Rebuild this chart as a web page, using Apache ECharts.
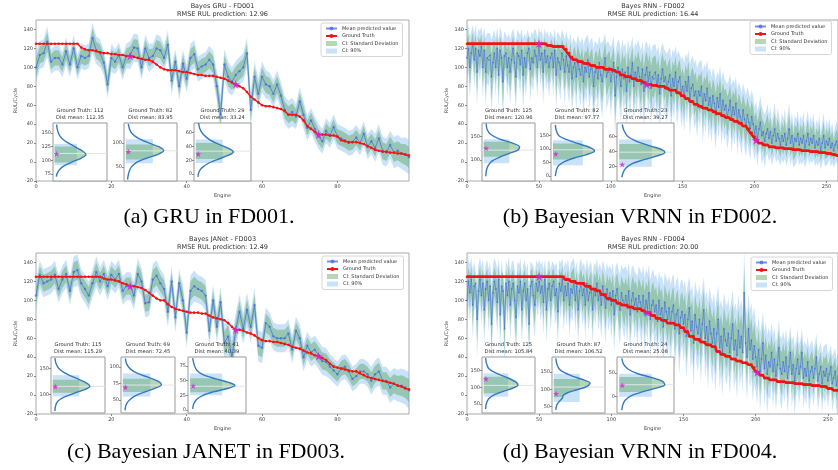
<!DOCTYPE html>
<html><head><meta charset="utf-8">
<script src="https://cdn.jsdelivr.net/npm/echarts@6/dist/echarts.min.js"></script>
<style>html,body{margin:0;padding:0;background:#fff}#c{width:838px;height:470px}</style>
</head><body><div id="c"></div>
<script>
// ---------------- DATA ----------------
const panelTitles = ['Bayes GRU - FD001','Bayes RNN - FD002','Bayes JANet - FD003','Bayes RNN - FD004'];
const panelRMSE = ['12.96','16.44','12.49','20.00'];
const captions = ['(a) GRU in FD001.','(b) Bayesian VRNN in FD002.','(c) Bayesian JANET in FD003.','(d) Bayesian VRNN in FD004.'];

// FD001
const truthA = [125,125,125,125,125,125,125,125,125,125,125,125,121,119,118,118,117,116,115,115,114,114,113,113,112,112,111,110,109,108,108,106,103,100,98,97,97,97,96,95,95,94,93,92,92,91,91,91,90,89,88,86,84,82,80,78,74,69,66,63,60,59,59,58,57,56,54,50,50,50,48,44,38,35,32,29,29,29,28,28,27,23,22,21,21,21,20,19,17,15,13,12,11,11,10,10,9,9,8,7];
const meanA = [100,113,115,127,106,110,110,103,117,103,120,100,112,110,112,131,118,115,105,82,110,106,113,100,112,113,121,120,100,120,110,112,120,118,110,124,86,106,80,104,88,110,114,98,101,103,108,103,80,50,103,90,85,92,96,100,115,55,90,72,90,82,80,72,82,70,55,50,53,48,64,50,36,44,35,27,22,33,28,37,27,25,23,20,21,26,20,30,16,22,15,25,12,10,18,10,12,9,8,5];
const sdA = [10,9,9,10,8,8,8,8,9,8,9,8,8,8,8,10,9,9,8,9,9,8,8,8,8,9,9,9,8,9,9,8,9,9,8,9,9,8,9,9,9,9,9,8,8,8,9,9,10,12,10,10,9,9,9,9,10,12,10,10,10,9,9,9,9,9,9,9,9,8,9,9,8,8,8,8,8,8,8,8,8,8,8,8,8,8,8,8,8,8,9,9,9,9,9,10,10,10,11,11];

// FD002 (ground truth as [value, count] runs)
const truthRunsB = [[125,56],[123,4],[122,8],[119,2],[115,2],[111,2],[108,3],[106,4],[104,5],[102,4],[100,6],[98,5],[97,3],[95,3],[92,3],[90,5],[88,3],[86,4],[84,3],[82,4],[81,4],[80,5],[78,3],[76,5],[73,3],[70,3],[67,3],[64,3],[61,3],[59,3],[57,4],[55,3],[53,3],[51,3],[49,3],[47,3],[45,3],[43,3],[41,3],[38,3],[35,2],[31,2],[27,2],[23,2],[20,3],[18,4],[16,5],[15,6],[14,6],[13,6],[12,6],[11,6],[10,5],[9,4],[8,3],[7,2]];
const meanB = [110,120,100,115,125,108,120,95,118,112,
122,100,118,95,110,108,113,90,105,115,
100,120,92,118,110,85,112,115,100,110,
95,108,120,105,90,115,112,103,118,92,
110,100,115,120,98,110,105,118,112,100,
122,108,115,95,118,105,112,100,110,115,
100,118,92,110,105,98,115,108,95,112,
102,95,110,88,100,105,90,108,98,92,
105,85,100,95,108,90,98,102,80,95,
100,88,105,92,85,98,110,90,95,100,
85,95,105,70,90,100,92,80,98,88,
95,75,100,85,92,105,80,95,88,100,
90,82,98,75,92,100,85,95,78,90,
88,95,80,92,72,88,98,85,90,78,
85,92,70,88,80,95,75,85,90,72,
80,68,85,75,90,65,78,82,70,75,
62,75,70,80,58,72,65,78,60,68,
55,70,62,50,68,58,72,52,65,55,
60,48,55,65,45,58,50,62,42,55,
48,40,55,45,38,50,42,35,48,40,
30,38,25,35,42,28,32,22,30,35,
25,32,20,28,35,22,30,25,18,28,
22,30,18,25,35,20,28,15,25,22,
30,18,25,20,28,15,22,30,18,25,
20,28,15,22,18,25,12,20,28,15,
22,18,25,15,20,12,18,22,15];
const sdB = [18,15,20,14,12,17,15,22,14,16,13,20,15,22,16,17,14,24,18,15,19,14,22,15,17,25,16,14,19,16,21,17,13,18,22,15,16,19,14,23,16,19,15,13,20,17,18,14,16,19,12,17,15,21,14,18,16,19,17,15,19,14,22,17,18,20,15,17,21,16,18,20,16,22,19,17,21,16,19,20,17,23,18,20,16,21,19,18,24,20,18,22,17,20,23,19,16,21,20,18,22,19,17,26,20,18,21,23,19,20,19,24,18,21,20,17,23,19,21,18,20,22,18,24,20,17,21,19,23,20,21,18,22,19,24,20,17,21,19,22,20,18,24,19,21,17,23,20,18,22,19,22,18,21,17,23,19,18,21,20,22,18,20,17,23,19,21,18,22,19,21,18,20,22,17,20,18,21,19,20,18,21,19,17,22,18,20,17,21,18,19,20,17,19,20,18,19,20,17,18,17,16,18,15,17,19,16,17,15,16,15,16,14,15,17,14,16,15,13,15,14,16,13,15,17,14,15,13,15,14,15,13,15,14,16,13,14,15,13,14,13,15,12,14,13,15,12,13,15,12,14,12,13,12,13,11,12,13,12];

// FD003
const truthC = [125,125,125,125,125,125,125,125,125,125,125,125,125,125,125,125,125,125,123,122,122,121,120,118,117,115,115,114,113,111,108,105,102,100,100,96,93,91,90,89,88,87,87,87,86,86,84,82,81,80,79,76,72,69,69,68,66,65,63,60,58,57,57,56,56,55,54,53,51,50,49,47,45,44,42,41,39,37,33,30,29,28,27,26,25,25,23,21,19,18,17,16,15,14,13,12,10,9,7,6];
const meanC = [105,127,118,120,122,127,112,122,128,110,130,132,118,112,105,118,130,120,128,115,127,122,128,110,115,115,105,128,120,97,98,122,126,118,112,88,120,82,118,100,66,110,115,112,110,105,68,100,72,98,55,62,40,68,88,70,90,72,95,52,50,76,72,62,60,60,60,65,48,68,60,40,52,45,48,42,36,35,30,26,22,28,30,25,17,20,25,25,22,15,22,25,15,15,8,12,10,10,8,5];
const sdC = [10,9,9,9,9,9,9,9,9,9,10,10,9,9,9,9,10,9,9,9,9,9,9,9,9,9,9,10,9,9,9,10,10,9,9,10,10,10,9,10,10,10,10,9,9,10,10,10,10,10,12,12,13,11,11,10,11,10,11,10,10,10,9,9,9,9,9,9,9,9,9,9,9,9,9,9,9,9,8,8,8,8,8,8,8,8,8,8,8,9,9,9,9,9,10,10,10,11,11,12];

// FD004
const truthRunsD = [[125,68],[122,4],[120,4],[118,6],[115,4],[112,4],[110,3],[106,4],[102,3],[100,4],[97,3],[95,5],[93,4],[91,5],[89,3],[87,4],[84,3],[81,4],[79,4],[76,5],[74,4],[71,3],[67,3],[62,4],[59,4],[56,4],[53,4],[51,3],[46,3],[43,3],[41,4],[38,4],[36,4],[34,4],[32,3],[29,2],[25,1],[24,2],[21,3],[18,4],[16,5],[14,6],[13,6],[12,6],[11,6],[10,6],[9,5],[7,4],[5,4]];
const meanD = [100,120,108,122,95,115,118,80,110,122,
105,118,90,112,120,100,115,75,108,120,
112,98,122,85,115,110,70,118,105,120,
95,112,118,100,82,115,108,120,90,110,
118,100,112,75,115,120,105,95,118,110,
120,108,115,98,122,90,112,118,100,115,
120,105,112,88,118,110,122,100,115,105,
118,95,112,108,120,100,115,90,110,118,
105,112,95,118,100,108,115,90,112,105,
118,100,110,95,115,105,92,112,100,108,
95,110,85,105,112,98,90,108,100,95,
105,92,110,85,100,108,95,102,88,105,
98,90,105,85,100,92,108,80,95,100,
88,95,78,100,85,92,72,98,88,80,
92,75,88,95,70,85,90,65,82,88,
75,85,62,80,92,68,78,55,85,72,
65,80,58,75,90,60,72,52,78,65,
55,70,48,65,80,50,62,45,70,58,
52,65,45,60,75,48,58,42,68,50,
62,45,108,55,40,70,48,58,38,52,
40,30,48,25,38,55,28,42,22,35,
30,45,25,38,20,32,50,28,22,35,
25,40,18,30,45,22,32,15,28,38,
22,30,45,18,28,20,35,15,25,30,
18,28,40,15,22,30,12,25,20,28,
15,22,30,12,18,25,10,20];
const sdD = [20,15,18,14,22,16,15,25,17,14,19,15,22,16,14,20,16,25,18,15,17,21,14,23,16,18,26,15,19,16,22,17,15,20,24,16,18,15,22,17,15,20,17,24,16,14,19,21,15,17,14,18,16,21,13,22,17,15,20,16,14,19,17,22,15,18,14,20,16,19,16,21,17,19,15,20,16,22,18,16,19,17,22,16,20,18,16,22,17,19,16,20,18,22,17,19,23,17,20,18,22,18,24,19,17,21,23,18,20,22,19,23,18,24,20,18,22,19,23,19,21,23,19,24,20,22,18,25,21,20,22,20,25,19,23,21,26,19,22,24,21,25,22,20,26,22,21,27,23,21,24,22,27,23,20,25,23,28,22,24,25,22,27,23,21,26,23,28,22,24,26,23,27,24,22,26,24,28,23,25,25,23,27,24,22,26,24,28,23,25,24,26,28,25,27,23,25,24,27,25,22,24,21,25,22,20,24,21,25,22,21,19,23,20,22,19,18,21,23,20,20,18,22,19,17,21,19,22,18,19,19,17,16,20,18,19,16,21,18,17,18,16,15,19,17,16,19,16,18,16,17,15,14,18,16,15,17,15];

// engines highlighted with star / inset
const starEngines = [[25,53,75],[50,125,201],[25,53,75],[50,125,201]];
// inset distributions
const insetTruth = [[112,82,29],[125,82,23],[115,69,41],[125,87,24]];
const insetMean = [['112.35','83.95','33.24'],['120.96','97.77','39.27'],['115.29','72.45','40.39'],['105.84','106.52','25.08']];
const insetYRange = [[[62,168],[21,142],[-10,74]],[[55,179],[-18,197],[1,78]],[[64,172],[30,115],[-5,90]],[[23,191],[31,194],[-34,83]]];
const insetTicks = [[[75,100,125,150],[50,100],[0,20,40,60]],[[100,150],[0,50,100,150],[20,40,60]],[[100,150],[50,75,100],[0,25,50,75]],[[50,100,150],[50,100,150],[0,50]]];
const insetSD = [[[96,125],[66,97],[22,45]],[[107,139],[62,121],[30,50]],[[103,128],[62,82],[30,54]],[[82,132],[77,130],[10,41]]];
const insetCI90 = [[[91,130],[58,108],[16,50]],[[93,144],[40,133],[20,56]],[[96,137],[55,90],[25,62]],[[72,142],[63,145],[0,48]]];
// KDE curves: [density (normalised), value]
const kdeA1 = [[0.02,165],[0.05,155],[0.12,145],[0.3,135],[0.62,125],[0.85,118],[1.0,110],[0.85,104],[0.55,97],[0.28,90],[0.12,83],[0.04,76],[0.01,70]];
const kdeA2 = [[0.02,140],[0.05,130],[0.12,120],[0.3,110],[0.6,100],[0.88,92],[1.0,84],[0.82,76],[0.5,68],[0.25,60],[0.1,50],[0.04,40],[0.01,30],[0.0,24]];
const kdeA3 = [[0.03,74],[0.06,66],[0.15,58],[0.33,50],[0.6,43],[0.88,37],[1.0,32],[0.85,27],[0.55,21],[0.28,15],[0.1,8],[0.03,2],[0.01,-4]];
const kdeB1 = [[0.02,178],[0.05,165],[0.15,155],[0.4,145],[0.75,137],[1.0,128],[0.95,121],[0.7,114],[0.42,106],[0.2,98],[0.08,88],[0.03,78],[0.01,65]];
const kdeB2 = [[0.01,190],[0.03,170],[0.1,150],[0.3,135],[0.6,120],[0.9,105],[1.0,93],[0.8,80],[0.5,68],[0.25,55],[0.1,40],[0.04,25],[0.02,10],[0.01,0]];
const kdeB3 = [[0.02,76],[0.06,68],[0.15,60],[0.38,53],[0.7,47],[0.95,42],[1.0,39],[0.8,34],[0.5,29],[0.25,24],[0.1,18],[0.04,12],[0.01,6]];
const kdeC1 = [[0.01,170],[0.05,158],[0.15,148],[0.38,138],[0.72,128],[0.95,120],[1.0,115],[0.85,109],[0.55,102],[0.28,95],[0.1,87],[0.03,78],[0.01,68]];
const kdeC2 = [[0.02,113],[0.05,105],[0.15,97],[0.35,90],[0.65,84],[0.92,78],[1.0,73],[0.8,67],[0.5,61],[0.25,55],[0.1,48],[0.03,41],[0.01,34]];
const kdeC3 = [[0.01,88],[0.04,78],[0.1,68],[0.25,60],[0.55,53],[0.85,47],[1.0,42],[0.85,37],[0.5,31],[0.25,25],[0.1,18],[0.03,10],[0.01,2]];
const kdeD1 = [[0.01,188],[0.04,170],[0.12,155],[0.35,142],[0.7,128],[0.95,115],[1.0,107],[0.85,98],[0.55,88],[0.28,78],[0.1,65],[0.03,50],[0.01,35]];
const kdeD2 = [[0.01,190],[0.05,170],[0.15,155],[0.45,140],[0.8,128],[1.0,118],[0.9,108],[0.6,98],[0.35,90],[0.22,82],[0.2,74],[0.12,66],[0.04,55],[0.01,40]];
const kdeD3 = [[0.01,80],[0.05,68],[0.15,58],[0.38,48],[0.7,40],[0.95,32],[1.0,25],[0.8,18],[0.48,10],[0.22,2],[0.08,-8],[0.03,-18],[0.01,-28]];
const kdeCurves = [[kdeA1,kdeA2,kdeA3],[kdeB1,kdeB2,kdeB3],[kdeC1,kdeC2,kdeC3],[kdeD1,kdeD2,kdeD3]];

// ---------------- LAYOUT / STYLE ----------------
const FONT = 'DejaVu Sans';
const C90 = 'rgba(135,190,240,0.45)';
const CSD = 'rgba(90,167,94,0.45)';
const CMEAN = 'rgba(65,105,225,0.72)';
const CRED = '#f01414';
const CSTAR = '#d81fd8';
const STAR = 'path://M50,2 L61.2,36.5 L97.6,36.5 L68.2,57.9 L79.4,92.5 L50,71.1 L20.6,92.5 L31.8,57.9 L2.4,36.5 L38.8,36.5 Z';
const mainBox = [[36,20,373,161],[467,20,372,161],[36,253,373,161],[467,253,372,161]];
const legendPos = [[321,23],[750,21],[322,256],[751,257]];
const captionPos = [[209,217],[640,217],[206,452],[640,452]];
const insetBox = [[[53,123,54,58],[124,123,53,58],[194,123,57,58]],[[482,123,53,58],[551,123,52,58],[617,123,57,58]],[[51,357,54,56],[121,357,54,56],[188,357,58,56]],[[482,357,53,56],[552,357,53,56],[617,357,57,56]]];
const insetXMax = [[1.70,1.37,1.49],[1.45,1.21,1.21],[1.43,1.37,1.26],[1.52,1.43,1.21]];

function expandRuns(runs){ const out=[]; runs.forEach(r=>{ for(let i=0;i<r[1];i++) out.push(r[0]); }); return out; }
const truthB = expandRuns(truthRunsB);
const truthD = expandRuns(truthRunsD);
const panels = [
  {truth:truthA, mean:meanA, sd:sdA, dense:false},
  {truth:truthB, mean:meanB, sd:sdB, dense:true},
  {truth:truthC, mean:meanC, sd:sdC, dense:false},
  {truth:truthD, mean:meanD, sd:sdD, dense:true}
];

function interpD(curve, v){
  for(let i=0;i<curve.length-1;i++){
    const a=curve[i], b=curve[i+1];
    if((a[1]-v)*(b[1]-v)<=0){ const t=(b[1]===a[1])?0:(v-a[1])/(b[1]-a[1]); return a[0]+t*(b[0]-a[0]); }
  }
  return 0;
}
function underCurve(curve, lo, hi, x0){
  const pts=[[x0,hi],[interpD(curve,hi),hi]];
  curve.forEach(p=>{ if(p[1]<hi && p[1]>lo) pts.push(p); });
  pts.push([interpD(curve,lo),lo],[x0,lo]);
  return pts;
}

const grid=[], xAxis=[], yAxis=[], series=[], legend=[], graphic=[];
const axisText = {fontSize:5,color:'#444',fontFamily:FONT};

panels.forEach((p,k)=>{
  const b = mainBox[k];
  grid.push({left:b[0],top:b[1],width:b[2],height:b[3],show:true,borderColor:'#aaa',borderWidth:1,containLabel:false});
  const cats = p.mean.map((_,i)=>i);
  const step = p.dense?49:19;
  xAxis.push({type:'category',gridIndex:k,data:cats,boundaryGap:false,
    name:'Engine',nameLocation:'middle',nameGap:12,nameTextStyle:{fontSize:5,color:'#444',fontFamily:FONT},
    axisLine:{show:false,onZero:false},axisTick:{show:true,interval:step,length:2,lineStyle:{color:'#888'}},
    axisLabel:Object.assign({interval:step,margin:3},axisText),splitLine:{show:false}});
  yAxis.push({type:'value',gridIndex:k,min:-20,max:150,interval:20,
    name:'RUL/Cycle',nameLocation:'middle',nameGap:18,nameTextStyle:{fontSize:5,color:'#444',fontFamily:FONT},
    axisLine:{show:false,onZero:false},axisTick:{show:true,length:2,lineStyle:{color:'#888'}},
    axisLabel:Object.assign({margin:3,showMaxLabel:false},axisText),splitLine:{show:false}});
  const lo90=p.mean.map((m,i)=>m-1.645*p.sd[i]);
  const d90=p.sd.map(s=>2*1.645*s);
  const loSD=p.mean.map((m,i)=>m-p.sd[i]);
  const dSD=p.sd.map(s=>2*s);
  const common={xAxisIndex:k,yAxisIndex:k,animation:false};
  series.push(Object.assign({type:'line',name:'_lo90',stack:'c90_'+k,stackStrategy:'all',data:lo90,symbol:'none',lineStyle:{opacity:0},silent:true,z:1},common));
  series.push(Object.assign({type:'line',name:'CI: 90%',stack:'c90_'+k,stackStrategy:'all',data:d90,symbol:'none',lineStyle:{width:0},areaStyle:{color:C90,opacity:1},color:C90,itemStyle:{color:C90},z:1},common));
  series.push(Object.assign({type:'line',name:'_losd',stack:'csd_'+k,stackStrategy:'all',data:loSD,symbol:'none',lineStyle:{opacity:0},silent:true,z:2},common));
  series.push(Object.assign({type:'line',name:'CI: Standard Deviation',stack:'csd_'+k,stackStrategy:'all',data:dSD,symbol:'none',lineStyle:{width:0},areaStyle:{color:CSD,opacity:1},color:CSD,itemStyle:{color:CSD},z:2},common));
  series.push(Object.assign({type:'line',name:'Mean predicted value',data:p.mean,symbol:'circle',symbolSize:p.dense?1.8:2.4,showAllSymbol:true,
    lineStyle:{color:CMEAN,width:p.dense?0.8:1},itemStyle:{color:CMEAN},color:CMEAN,z:3},common));
  series.push(Object.assign({type:'line',name:'Ground Truth',data:p.truth,symbol:'circle',symbolSize:2.6,showAllSymbol:true,
    lineStyle:{color:CRED,width:p.dense?2.4:1.4},itemStyle:{color:CRED},color:CRED,z:4},common));
  series.push(Object.assign({type:'scatter',name:'_star',data:starEngines[k].map(e=>[e,p.truth[e]]),symbol:STAR,symbolSize:9,itemStyle:{color:CSTAR},z:5},common));

  legend.push({left:legendPos[k][0],top:legendPos[k][1],orient:'vertical',itemWidth:11,itemHeight:5,itemGap:2.5,padding:[3,4,3,4],
    backgroundColor:'rgba(255,255,255,0.9)',borderColor:'#ccc',borderWidth:0.8,borderRadius:2,selectedMode:false,
    textStyle:{fontSize:5,color:'#333',fontFamily:FONT},
    data:[{name:'Mean predicted value'},{name:'Ground Truth'},
      {name:'CI: Standard Deviation',icon:'rect',itemStyle:{color:CSD}},
      {name:'CI: 90%',icon:'rect',itemStyle:{color:C90}}]});

  const cx = b[0]+b[2]/2;
  graphic.push({type:'text',x:cx,y:b[1]-14,style:{text:panelTitles[k],fontSize:6.5,fontFamily:FONT,fill:'#333',align:'center',verticalAlign:'middle'},z:30});
  graphic.push({type:'text',x:cx,y:b[1]-6,style:{text:'RMSE RUL prediction: '+panelRMSE[k],fontSize:6.5,fontFamily:FONT,fill:'#333',align:'center',verticalAlign:'middle'},z:30});
  graphic.push({type:'text',x:captionPos[k][0],y:captionPos[k][1],style:{text:captions[k],fontSize:22,fontFamily:'Liberation Serif',fill:'#000',align:'center',verticalAlign:'middle'},z:30});
});

// insets
panels.forEach((p,k)=>{
  for(let j=0;j<3;j++){
    const gi = grid.length;
    const ib = insetBox[k][j];
    const curve = kdeCurves[k][j];
    const xmax = insetXMax[k][j];
    grid.push({left:ib[0],top:ib[1],width:ib[2],height:ib[3],show:true,backgroundColor:'#fff',borderColor:'#999',borderWidth:1,z:10});
    xAxis.push({type:'value',gridIndex:gi,min:-0.1,max:xmax,show:false,z:11,axisLine:{onZero:false}});
    yAxis.push({type:'value',gridIndex:gi,min:insetYRange[k][j][0],max:insetYRange[k][j][1],z:11,
      axisLine:{show:false,onZero:false},splitLine:{show:false},
      axisTick:{show:true,length:2,customValues:insetTicks[k][j],lineStyle:{color:'#888'}},
      axisLabel:Object.assign({margin:2,customValues:insetTicks[k][j]},axisText)});
    const sdR = insetSD[k][j], ciR = insetCI90[k][j];
    const rect90 = [[-0.05,ciR[0]],[0.7,ciR[0]],[0.7,ciR[1]],[-0.05,ciR[1]]];
    const green = underCurve(curve, sdR[0], sdR[1], -0.05);
    const meanV = parseFloat(insetMean[k][j]);
    const c = {xAxisIndex:gi,yAxisIndex:gi,animation:false};
    series.push(Object.assign({type:'line',name:'_mline',data:[[-0.1,meanV],[xmax,meanV]],symbol:'none',lineStyle:{color:'#e4e4e4',width:1},silent:true,z:12},c));
    series.push(Object.assign({type:'custom',name:'_bands',data:curve,silent:true,z:12,
      renderItem:(params,api)=>{
        if(params.dataIndex!==0) return null;
        const px = pts=>pts.map(q=>api.coord(q));
        return {type:'group',children:[
          {type:'polygon',shape:{points:px(rect90)},style:{fill:C90}},
          {type:'polygon',shape:{points:px(green)},style:{fill:CSD}}
        ]};
      }},c));
    series.push(Object.assign({type:'line',name:'_kde',data:curve,symbol:'none',smooth:0.3,lineStyle:{color:'#3479c2',width:1.4},silent:true,z:13},c));
    series.push(Object.assign({type:'scatter',name:'_istar',data:[[0.02,insetTruth[k][j]]],symbol:STAR,symbolSize:6,itemStyle:{color:CSTAR},silent:true,z:14},c));
    const tx = ib[0]+ib[2]/2;
    graphic.push({type:'text',x:tx,y:ib[1]-12,style:{text:'Ground Truth: '+insetTruth[k][j],fontSize:5.2,fontFamily:FONT,fill:'#333',align:'center',verticalAlign:'middle'},z:30});
    graphic.push({type:'text',x:tx,y:ib[1]-5.5,style:{text:'Dist mean: '+insetMean[k][j],fontSize:5.2,fontFamily:FONT,fill:'#333',align:'center',verticalAlign:'middle'},z:30});
  }
});

const chart = echarts.init(document.getElementById('c'));
chart.setOption({backgroundColor:'#fff',animation:false,grid,xAxis,yAxis,series,legend,graphic});
</script></body></html>
